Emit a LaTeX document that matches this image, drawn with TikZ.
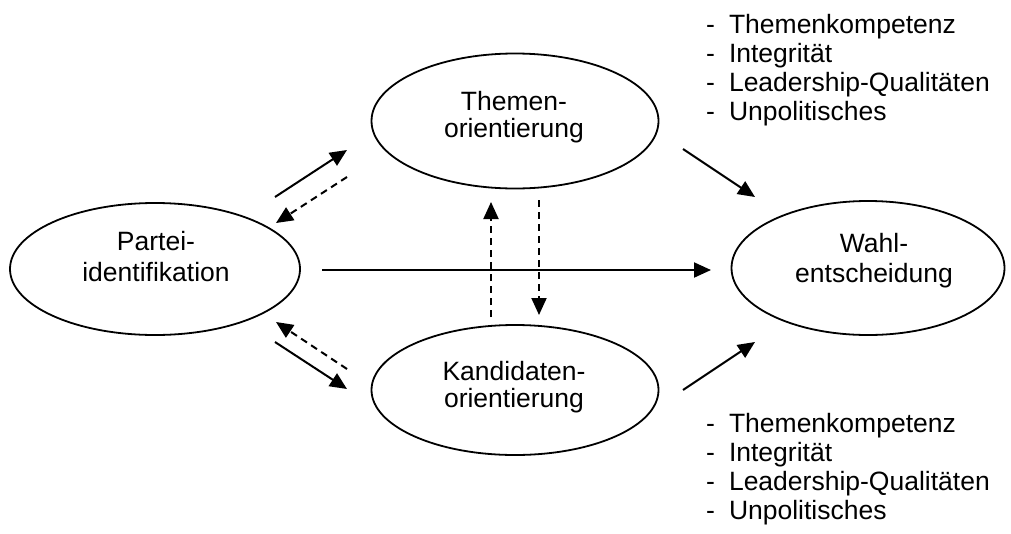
\documentclass[tikz,border=0pt]{standalone}
\usepackage{fontspec}
\setmainfont{Liberation Sans}
\usetikzlibrary{shapes.geometric,arrows.meta}
\tikzset{
  ell/.style={draw, ellipse, line width=1.8pt, inner sep=0pt},
  lbl/.style={anchor=base, inner sep=0pt, font=\fontsize{26.5}{30}\selectfont},
  listtxt/.style={anchor=base west, inner sep=0pt, font=\fontsize{26.5}{29}\selectfont},
  conn/.style={line width=2pt, -{Triangle[length=17pt,width=15pt]}},
  dconn/.style={conn, dash pattern=on 7pt off 5pt},
}
\newcommand{\twolines}[3]{\begin{tabular}[t]{@{}c@{}}#1\\[#3]#2\end{tabular}}
\begin{document}
\begin{tikzpicture}[x=1pt,y=-1pt]
\useasboundingbox (0,0) rectangle (1011,533);
% ellipses
\node[ell, minimum width=290pt, minimum height=132pt] (P) at (155,269) {};
\node[ell, minimum width=287pt, minimum height=135pt] (T) at (515,121) {};
\node[ell, minimum width=287pt, minimum height=130pt] (K) at (515,390) {};
\node[ell, minimum width=273pt, minimum height=134pt] (W) at (868,268) {};
% labels
\node[lbl] (Pt) at (156,250) {\twolines{Partei-}{identifikation}{1pt}};
\node[lbl] (Tt) at (514,110) {\twolines{Themen-}{orientierung}{-3pt}};
\node[lbl] (Kt) at (514,380) {\twolines{Kandidaten-}{orientierung}{-3pt}};
\node[lbl] (Wt) at (874,252) {\twolines{Wahl-}{entscheidung}{0pt}};
% lists
\node[listtxt] (L1) at (706,33) {\begin{tabular}[t]{@{}l@{\hspace{14pt}}l@{}}
-&Themenkompetenz\\ -&Integrität\\ -&Leadership-Qualitäten\\ -&Unpolitisches\end{tabular}};
\node[listtxt] (L2) at (706,432) {\begin{tabular}[t]{@{}l@{\hspace{14pt}}l@{}}
-&Themenkompetenz\\ -&Integrität\\ -&Leadership-Qualitäten\\ -&Unpolitisches\end{tabular}};
% connector end points
\coordinate (a1) at (275,197); \coordinate (a2) at (347,150);
\coordinate (b1) at (347,177); \coordinate (b2) at (276,223);
\coordinate (c1) at (347,369); \coordinate (c2) at (276,322);
\coordinate (d1) at (275,342); \coordinate (d2) at (347,389);
\coordinate (e1) at (491,317); \coordinate (e2) at (491,202);
\coordinate (f1) at (539,200); \coordinate (f2) at (539,315);
\coordinate (g1) at (683,149); \coordinate (g2) at (755,197);
\coordinate (h1) at (683,390); \coordinate (h2) at (755,342);
\coordinate (i1) at (322,270); \coordinate (i2) at (711,270);
% connectors
\draw[conn] (a1) -- (a2);
\draw[dconn] (b1) -- (b2);
\draw[dconn] (c1) -- (c2);
\draw[conn] (d1) -- (d2);
\draw[dconn] (e1) -- (e2);
\draw[dconn] (f1) -- (f2);
\draw[conn] (g1) -- (g2);
\draw[conn] (h1) -- (h2);
\draw[conn] (i1) -- (i2);
\end{tikzpicture}
\end{document}
